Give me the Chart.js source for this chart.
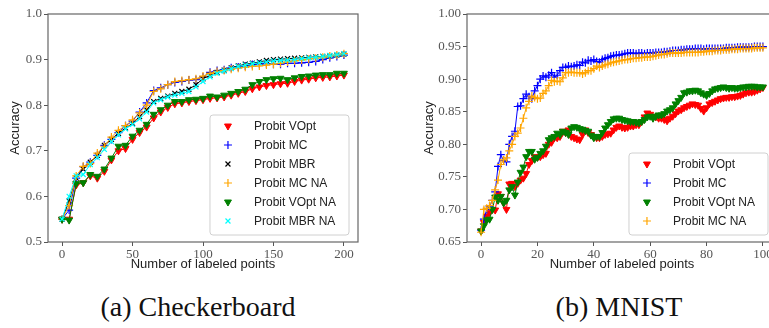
<!DOCTYPE html>
<html lang="en">
<head>
<meta charset="UTF-8">
<title>Accuracy vs labeled points</title>
<script src="https://cdn.jsdelivr.net/npm/chart.js"></script>
<style>
    html, body { margin: 0; padding: 0; background: #fff; }
    body { width: 769px; height: 328px; overflow: hidden; position: relative; }
    .panel { position: absolute; top: 0; }
    .caption {
        position: absolute; top: 291px; font-family: "Liberation Serif", serif;
        font-size: 28px; color: #111; white-space: nowrap; transform: translateX(-50%);
    }
</style>
</head>
<body>
<div class="panel" style="left:0"><canvas id="leftChart" width="370" height="274"></canvas></div>
<div class="panel" style="left:400px"><canvas id="rightChart" width="392" height="274"></canvas></div>
<div class="caption" style="left:198px">(a) Checkerboard</div>
<div class="caption" style="left:619px">(b) MNIST</div>

<script>
// ---- (a) Checkerboard ----
const leftX = [0, 5, 10, 15, 20, 25, 30, 35, 40, 45, 50, 55, 60, 65, 70, 75, 80, 85, 90, 95, 100,
    105, 110, 115, 120, 125, 130, 135, 140, 145, 150, 155, 160, 165, 170, 175, 180, 185, 190, 195, 200];
const leftXTicks = [0, 50, 100, 150, 200];
const leftYTicks = [0.5, 0.6, 0.7, 0.8, 0.9, 1.0];

const leftVOpt = [0.55, 0.55, 0.625, 0.63, 0.645, 0.64, 0.655, 0.68, 0.70, 0.705, 0.725, 0.74, 0.752, 0.772,
    0.785, 0.795, 0.803, 0.805, 0.808, 0.81, 0.812, 0.815, 0.816, 0.818, 0.822, 0.826, 0.83, 0.836, 0.84,
    0.843, 0.845, 0.847, 0.848, 0.852, 0.855, 0.857, 0.86, 0.861, 0.862, 0.864, 0.866];
const leftMC = [0.55, 0.57, 0.64, 0.665, 0.675, 0.69, 0.712, 0.725, 0.74, 0.755, 0.765, 0.785, 0.805, 0.832,
    0.838, 0.845, 0.85, 0.852, 0.855, 0.856, 0.862, 0.872, 0.876, 0.878, 0.882, 0.884, 0.886, 0.889, 0.89,
    0.891, 0.89, 0.89, 0.892, 0.892, 0.893, 0.894, 0.896, 0.90, 0.904, 0.907, 0.91];
const leftMBR = [0.55, 0.59, 0.64, 0.66, 0.675, 0.69, 0.712, 0.725, 0.738, 0.75, 0.76, 0.775, 0.79, 0.808,
    0.815, 0.82, 0.826, 0.83, 0.835, 0.845, 0.858, 0.866, 0.872, 0.877, 0.882, 0.886, 0.89, 0.892, 0.895,
    0.898, 0.90, 0.901, 0.902, 0.903, 0.904, 0.905, 0.906, 0.907, 0.908, 0.91, 0.912];
const leftMCNA = [0.55, 0.58, 0.645, 0.666, 0.672, 0.695, 0.71, 0.73, 0.745, 0.755, 0.768, 0.783, 0.80, 0.83,
    0.836, 0.845, 0.852, 0.854, 0.856, 0.858, 0.864, 0.87, 0.874, 0.876, 0.879, 0.881, 0.883, 0.885, 0.886,
    0.888, 0.89, 0.892, 0.895, 0.897, 0.899, 0.901, 0.903, 0.905, 0.908, 0.91, 0.913];
const leftVOptNA = [0.55, 0.548, 0.628, 0.63, 0.648, 0.644, 0.66, 0.684, 0.71, 0.712, 0.732, 0.745, 0.758, 0.78,
    0.79, 0.80, 0.808, 0.808, 0.812, 0.813, 0.815, 0.82, 0.818, 0.822, 0.826, 0.83, 0.835, 0.845, 0.852,
    0.856, 0.858, 0.859, 0.856, 0.86, 0.863, 0.864, 0.866, 0.867, 0.867, 0.87, 0.87];
const leftMBRNA = [0.55, 0.60, 0.645, 0.648, 0.67, 0.685, 0.703, 0.72, 0.735, 0.748, 0.758, 0.77, 0.785, 0.805,
    0.812, 0.818, 0.822, 0.826, 0.83, 0.84, 0.852, 0.862, 0.87, 0.875, 0.88, 0.885, 0.888, 0.891, 0.893,
    0.895, 0.897, 0.898, 0.899, 0.90, 0.902, 0.904, 0.905, 0.907, 0.909, 0.911, 0.913];

// ---- (b) MNIST ----
const rightX = [0, 1, 2, 3, 4, 5, 6, 7, 8, 9, 10, 11, 12, 13, 14, 15, 16, 17, 18, 19, 20, 21, 22, 23, 24, 25,
    26, 27, 28, 29, 30, 31, 32, 33, 34, 35, 36, 37, 38, 39, 40, 41, 42, 43, 44, 45, 46, 47, 48, 49, 50, 51,
    52, 53, 54, 55, 56, 57, 58, 59, 60, 61, 62, 63, 64, 65, 66, 67, 68, 69, 70, 71, 72, 73, 74, 75, 76, 77,
    78, 79, 80, 81, 82, 83, 84, 85, 86, 87, 88, 89, 90, 91, 92, 93, 94, 95, 96, 97, 98, 99, 100];
const rightXTicks = [0, 20, 40, 60, 80, 100];
const rightYTicks = [0.65, 0.70, 0.75, 0.80, 0.85, 0.90, 0.95, 1.00];

const rightVOpt = [0.667, 0.68, 0.69, 0.695, 0.70, 0.699, 0.724, 0.72, 0.71, 0.70, 0.739, 0.74, 0.735, 0.74,
    0.745, 0.748, 0.755, 0.769, 0.775, 0.781, 0.78, 0.781, 0.784, 0.786, 0.80, 0.803, 0.81, 0.81, 0.812,
    0.82, 0.818, 0.822, 0.812, 0.81, 0.808, 0.807, 0.815, 0.822, 0.818, 0.815, 0.812, 0.81, 0.81, 0.812,
    0.815, 0.816, 0.817, 0.822, 0.826, 0.828, 0.826, 0.825, 0.826, 0.828, 0.828, 0.83, 0.83, 0.835, 0.842,
    0.848, 0.846, 0.843, 0.842, 0.84, 0.84, 0.838, 0.836, 0.84, 0.843, 0.847, 0.851, 0.853, 0.856, 0.858,
    0.86, 0.862, 0.861, 0.86, 0.855, 0.851, 0.856, 0.862, 0.864, 0.866, 0.868, 0.87, 0.871, 0.872, 0.872,
    0.873, 0.873, 0.874, 0.875, 0.877, 0.879, 0.88, 0.88, 0.881, 0.883, 0.885, 0.887];
const rightMC = [0.668, 0.685, 0.70, 0.705, 0.714, 0.727, 0.766, 0.784, 0.775, 0.773, 0.80, 0.812, 0.82, 0.858,
    0.859, 0.87, 0.877, 0.873, 0.87, 0.882, 0.89, 0.90, 0.905, 0.903, 0.906, 0.91, 0.903, 0.906, 0.913,
    0.918, 0.918, 0.92, 0.919, 0.92, 0.922, 0.921, 0.926, 0.925, 0.929, 0.928, 0.93, 0.927, 0.926, 0.93,
    0.932, 0.933, 0.935, 0.936, 0.937, 0.937, 0.938, 0.939, 0.94, 0.94, 0.94, 0.939, 0.94, 0.94, 0.939,
    0.94, 0.94, 0.94, 0.941, 0.941, 0.941, 0.942, 0.942, 0.943, 0.944, 0.944, 0.944, 0.945, 0.945, 0.946,
    0.946, 0.946, 0.947, 0.947, 0.947, 0.946, 0.947, 0.947, 0.947, 0.947, 0.947, 0.947, 0.947, 0.948,
    0.948, 0.948, 0.948, 0.949, 0.949, 0.949, 0.949, 0.949, 0.949, 0.95, 0.95, 0.95, 0.95];
const rightVOptNA = [0.667, 0.675, 0.684, 0.685, 0.70, 0.719, 0.714, 0.72, 0.71, 0.714, 0.73, 0.735, 0.722,
    0.742, 0.757, 0.765, 0.781, 0.789, 0.789, 0.777, 0.78, 0.786, 0.79, 0.797, 0.807, 0.81, 0.812, 0.817,
    0.815, 0.82, 0.818, 0.815, 0.825, 0.827, 0.826, 0.824, 0.823, 0.821, 0.82, 0.814, 0.81, 0.812, 0.812,
    0.818, 0.825, 0.83, 0.835, 0.839, 0.84, 0.84, 0.838, 0.837, 0.836, 0.835, 0.835, 0.834, 0.833, 0.835,
    0.838, 0.842, 0.843, 0.84, 0.843, 0.845, 0.845, 0.847, 0.851, 0.853, 0.856, 0.862, 0.867, 0.872, 0.879,
    0.88, 0.882, 0.882, 0.883, 0.882, 0.879, 0.877, 0.875, 0.878, 0.882, 0.885, 0.886, 0.887, 0.888, 0.887,
    0.886, 0.887, 0.886, 0.886, 0.887, 0.888, 0.888, 0.889, 0.889, 0.889, 0.888, 0.888, 0.888];
const rightMCNA = [0.665, 0.70, 0.702, 0.706, 0.714, 0.73, 0.745, 0.769, 0.776, 0.779, 0.79, 0.80, 0.812,
    0.817, 0.825, 0.84, 0.856, 0.866, 0.874, 0.872, 0.87, 0.871, 0.878, 0.882, 0.89, 0.898, 0.896, 0.897,
    0.896, 0.902, 0.91, 0.91, 0.911, 0.91, 0.91, 0.91, 0.908, 0.91, 0.913, 0.913, 0.916, 0.92, 0.918, 0.92,
    0.922, 0.923, 0.925, 0.926, 0.927, 0.928, 0.929, 0.93, 0.93, 0.931, 0.932, 0.932, 0.933, 0.933, 0.934,
    0.934, 0.934, 0.935, 0.936, 0.937, 0.938, 0.938, 0.939, 0.94, 0.94, 0.94, 0.94, 0.94, 0.941, 0.941,
    0.941, 0.941, 0.941, 0.941, 0.942, 0.942, 0.943, 0.943, 0.943, 0.944, 0.944, 0.944, 0.945, 0.945,
    0.945, 0.946, 0.946, 0.946, 0.947, 0.947, 0.947, 0.947, 0.947, 0.948, 0.948, 0.948, 0.948];

const SANS = '"Liberation Sans", "DejaVu Sans", sans-serif';
const SERIF = '"Liberation Serif", "DejaVu Serif", serif';
const AXIS_COLOR = '#555';

// marker presets
const MARKERS = {
    tri:  { pointStyle: 'triangle', pointRotation: 180, pointRadius: 4, pointBorderWidth: 1 },
    plus: { pointStyle: 'cross', pointRotation: 0, pointRadius: 4, pointBorderWidth: 1.2 },
    x:    { pointStyle: 'crossRot', pointRotation: 0, pointRadius: 3.5, pointBorderWidth: 1.2 }
};

function series(label, xs, ys, color, marker, order) {
    return Object.assign({
        label: label,
        data: ys.map((v, i) => ({ x: xs[i], y: v })),
        borderColor: color,
        backgroundColor: color,
        pointBackgroundColor: color,
        pointBorderColor: color,
        borderWidth: 1,
        tension: 0,
        order: order
    }, MARKERS[marker]);
}

// frame around plot area (matplotlib spines)
const framePlugin = {
    id: 'frame',
    afterDatasetsDraw(chart) {
        const a = chart.chartArea, ctx = chart.ctx;
        ctx.save();
        ctx.strokeStyle = '#666';
        ctx.lineWidth = 1.2;
        ctx.strokeRect(a.left, a.top, a.right - a.left, a.bottom - a.top);
        ctx.restore();
    }
};

// legend box in the lower right corner of the plot area
const cornerLegend = {
    id: 'cornerLegend',
    afterDraw(chart) {
        const a = chart.chartArea, ctx = chart.ctx;
        const sets = chart.data.datasets;
        const rowH = 19;
        ctx.save();
        ctx.font = '12px ' + SANS;
        const tw = Math.max(...sets.map(d => ctx.measureText(d.label).width));
        const w = 44 + tw + 13, h = sets.length * rowH + 6;
        const x0 = a.right - 9 - w, y0 = a.bottom - 7 - h;
        ctx.beginPath();
        ctx.roundRect(x0, y0, w, h, 3);
        ctx.fillStyle = 'rgba(255,255,255,0.85)';
        ctx.fill();
        ctx.strokeStyle = '#d0d0d0';
        ctx.lineWidth = 1;
        ctx.stroke();
        sets.forEach((d, i) => {
            const cy = y0 + 11 + rowH * i;
            ctx.fillStyle = d.pointBackgroundColor;
            ctx.strokeStyle = d.pointBorderColor;
            ctx.lineWidth = d.pointBorderWidth;
            Chart.helpers.drawPoint(ctx, {
                pointStyle: d.pointStyle, rotation: d.pointRotation,
                radius: d.pointRadius, borderWidth: d.pointBorderWidth
            }, x0 + 18, cy);
            ctx.fillStyle = '#222';
            ctx.textBaseline = 'middle';
            ctx.textAlign = 'left';
            ctx.fillText(d.label, x0 + 44, cy + 1);
        });
        ctx.restore();
    }
};

function makeChart(id, datasets, xr, yr, xTicks, yTicks, yDigits, padLeft, yWidth, padRight) {
    return new Chart(document.getElementById(id), {
        type: 'line',
        data: { datasets: datasets },
        options: {
            responsive: false,
            animation: false,
            events: [],
            layout: { padding: { top: 14, right: padRight, left: padLeft, bottom: 0 } },
            plugins: { legend: { display: false }, tooltip: { enabled: false } },
            scales: {
                x: {
                    type: 'linear', min: xr[0], max: xr[1],
                    afterBuildTicks: s => { s.ticks = xTicks.map(v => ({ value: v })); },
                    afterFit: s => { s.height = 32; },
                    border: { display: false },
                    grid: { drawOnChartArea: false, drawTicks: true, tickLength: 4, color: AXIS_COLOR },
                    ticks: { color: '#555', font: { family: SERIF, size: 13 }, padding: 1, maxRotation: 0 },
                    title: { display: true, text: 'Number of labeled points', color: '#222',
                             font: { family: SANS, size: 13 }, padding: { top: 0, bottom: 2 } }
                },
                y: {
                    min: yr[0], max: yr[1],
                    afterBuildTicks: s => { s.ticks = yTicks.map(v => ({ value: v })); },
                    afterFit: s => { s.width = yWidth; },
                    border: { display: false },
                    grid: { drawOnChartArea: false, drawTicks: true, tickLength: 4, color: AXIS_COLOR },
                    ticks: { color: '#555', font: { family: SERIF, size: 13 }, padding: 2,
                             callback: v => Number(v).toFixed(yDigits) },
                    title: { display: true, text: 'Accuracy', color: '#222',
                             font: { family: SANS, size: 13 }, padding: { top: 0, bottom: 4 } }
                }
            }
        },
        plugins: [framePlugin, cornerLegend]
    });
}

makeChart('leftChart', [
    series('Probit VOpt', leftX, leftVOpt, '#ff0000', 'tri', 6),
    series('Probit MC', leftX, leftMC, '#0000ff', 'plus', 5),
    series('Probit MBR', leftX, leftMBR, '#000000', 'x', 4),
    series('Probit MC NA', leftX, leftMCNA, '#ffa500', 'plus', 3),
    series('Probit VOpt NA', leftX, leftVOptNA, '#008000', 'tri', 2),
    series('Probit MBR NA', leftX, leftMBRNA, '#00ffff', 'x', 1)
], [-10, 210], [0.5, 1.0], leftXTicks, leftYTicks, 1, 8, 40, 12);

makeChart('rightChart', [
    series('Probit VOpt', rightX, rightVOpt, '#ff0000', 'tri', 4),
    series('Probit MC', rightX, rightMC, '#0000ff', 'plus', 3),
    series('Probit VOpt NA', rightX, rightVOptNA, '#008000', 'tri', 2),
    series('Probit MC NA', rightX, rightMCNA, '#ffa500', 'plus', 1)
], [-5, 105], [0.65, 1.0], rightXTicks, rightYTicks, 2, 22, 45, 15);
</script>
</body>
</html>
